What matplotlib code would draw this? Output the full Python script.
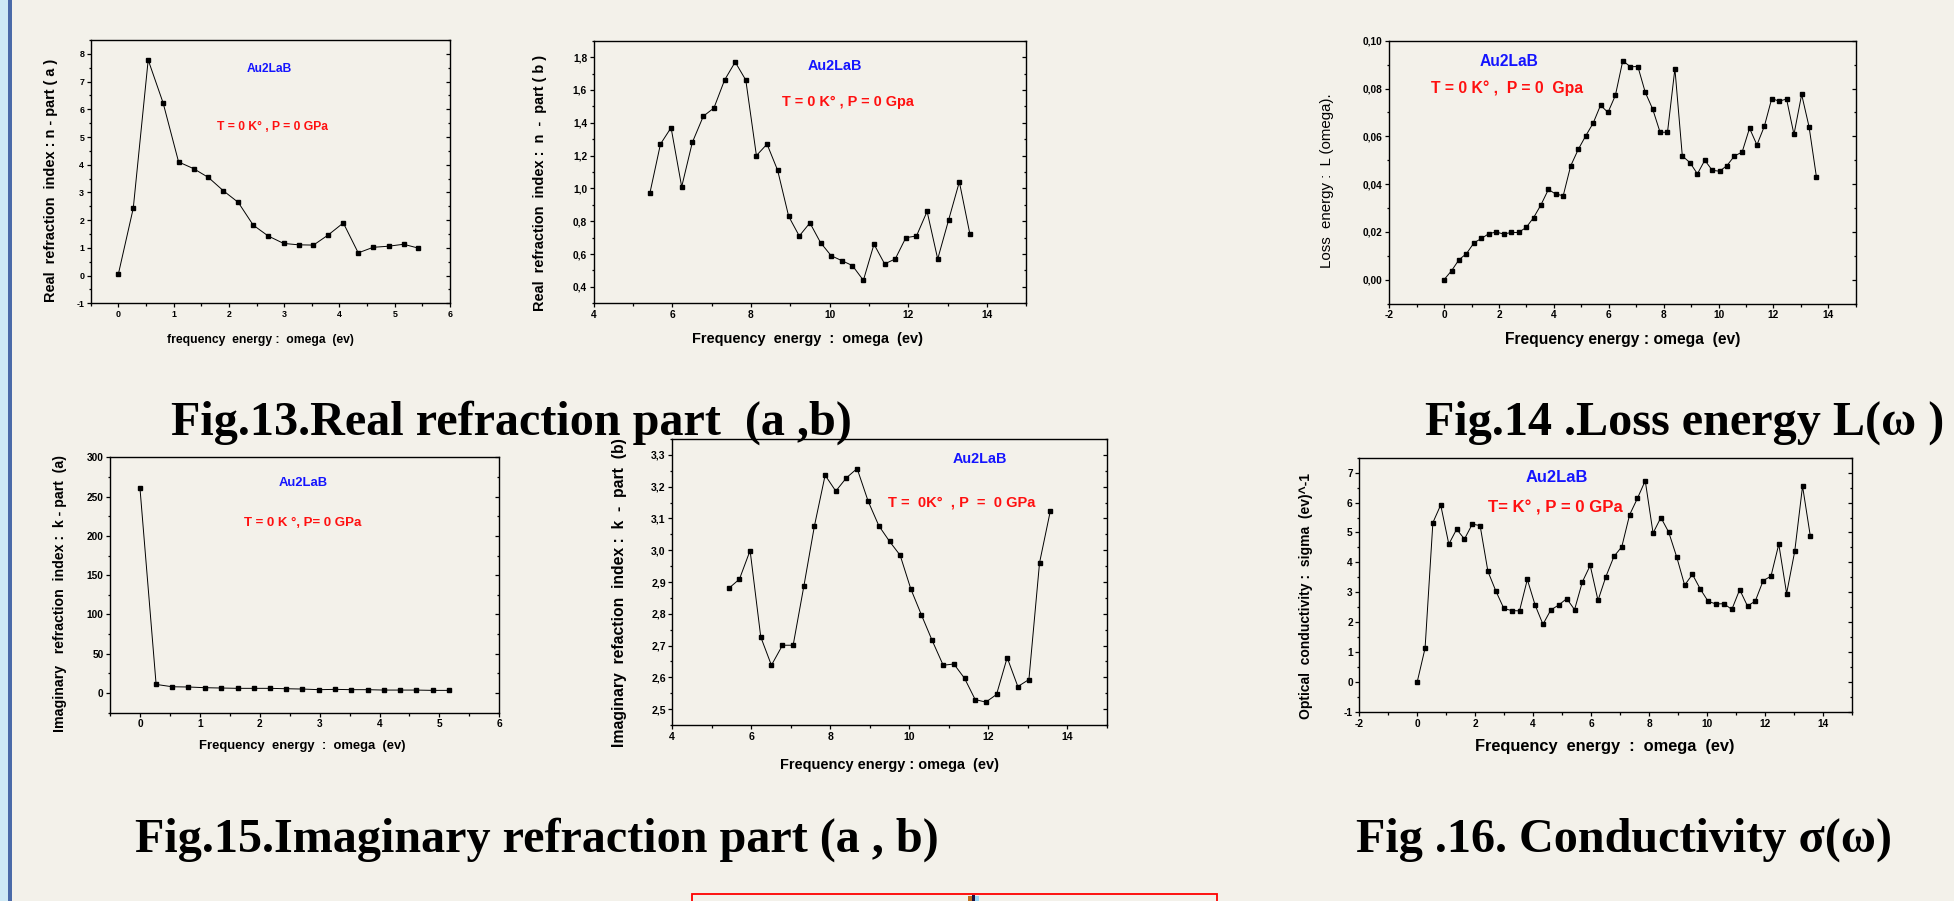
import matplotlib
matplotlib.use('Agg')
import matplotlib.pyplot as plt
from matplotlib.patches import Rectangle
from matplotlib.ticker import MultipleLocator, FuncFormatter

W, H = 1954, 901
BG = '#f3f1ea'

# energies (ev)
energy_low = [0.00, 0.27, 0.54, 0.81, 1.09, 1.36, 1.63, 1.90, 2.17, 2.44, 2.71,
              2.99, 3.26, 3.53, 3.80, 4.07, 4.34, 4.61, 4.89, 5.16, 5.43]
energy_high = [5.43, 5.70, 5.97, 6.24, 6.51, 6.79, 7.06, 7.33, 7.60, 7.87, 8.14,
               8.41, 8.68, 8.96, 9.23, 9.50, 9.77, 10.04, 10.31, 10.58, 10.86,
               11.13, 11.40, 11.67, 11.94, 12.21, 12.48, 12.75, 13.03, 13.30, 13.57]
energy_all = energy_low + energy_high[1:]

n_a = [0.05, 2.43, 7.78, 6.23, 4.10, 3.86, 3.54, 3.06, 2.64, 1.82, 1.43,
       1.16, 1.11, 1.10, 1.47, 1.90, 0.82, 1.02, 1.06, 1.13, 0.99]
n_b = [0.97, 1.27, 1.37, 1.01, 1.28, 1.44, 1.49, 1.66, 1.77, 1.66, 1.20,
       1.27, 1.11, 0.83, 0.71, 0.79, 0.67, 0.59, 0.56, 0.53, 0.44,
       0.66, 0.54, 0.57, 0.70, 0.71, 0.86, 0.57, 0.81, 1.04, 0.72]
loss = [0.0001, 0.0038, 0.0084, 0.0109, 0.0155, 0.0173, 0.0193, 0.0200, 0.0191,
        0.0198, 0.0198, 0.0219, 0.0260, 0.0314, 0.0378, 0.0358, 0.0352, 0.0476,
        0.0546, 0.0602, 0.0655, 0.0730, 0.0700, 0.0771, 0.0916, 0.0891, 0.0892,
        0.0784, 0.0714, 0.0617, 0.0617, 0.0883, 0.0518, 0.0490, 0.0443, 0.0500,
        0.0458, 0.0454, 0.0478, 0.0518, 0.0534, 0.0634, 0.0564, 0.0642, 0.0758,
        0.0747, 0.0756, 0.0608, 0.0775, 0.0640, 0.0429]
k_a = [261, 11, 8, 7.7, 6.8, 6.4, 6, 6, 6, 5.5, 5.1, 4.3, 4.7, 4.3, 4.3,
       3.8, 3.8, 3.8, 3.4, 3.4]
k_b = [2.880, 2.909, 2.999, 2.727, 2.638, 2.701, 2.701, 2.886, 3.077, 3.236,
       3.186, 3.228, 3.257, 3.154, 3.077, 3.028, 2.984, 2.878, 2.796, 2.716,
       2.638, 2.642, 2.597, 2.530, 2.522, 2.546, 2.662, 2.571, 2.593, 2.961, 3.122]
sigma = [0.01, 1.13, 5.33, 5.92, 4.61, 5.11, 4.78, 5.28, 5.23, 3.70, 3.05,
         2.46, 2.39, 2.38, 3.43, 2.57, 1.93, 2.41, 2.58, 2.79, 2.42, 3.35,
         3.90, 2.73, 3.52, 4.20, 4.52, 5.59, 6.14, 6.73, 4.98, 5.50, 5.01,
         4.17, 3.24, 3.60, 3.11, 2.70, 2.61, 2.62, 2.43, 3.09, 2.54, 2.71,
         3.39, 3.54, 4.61, 2.96, 4.37, 6.55, 4.87]

fig = plt.figure(figsize=(W / 100, H / 100), dpi=100, facecolor=BG)
renderer = fig.canvas.get_renderer()


def put(x, y, s, width, rot=0, weight='bold', color='black',
        family='Liberation Sans'):
    # place text centred at pixel (x, y) and scale it to the measured width
    t = fig.text(x / W, 1 - y / H, s, ha='center', va='center', rotation=rot,
                 fontsize=10, fontweight=weight, color=color, family=family)
    bb = t.get_window_extent(renderer)
    size = bb.height if rot else bb.width
    t.set_fontsize(10 * width / size)
    return t


def panel(box, x, y, xlim, ylim, xmaj, xmin, ymaj, ymin, yfmt, tsize=7.3):
    l, r, t, b = box
    ax = fig.add_axes([l / W, 1 - b / H, (r - l) / W, (b - t) / H])
    ax.set_facecolor(BG)
    ax.plot(x, y, color='black', lw=0.7, marker='s', ms=3.5, mfc='black', mec='black')
    ax.set_xlim(xlim)
    ax.set_ylim(ylim)
    ax.xaxis.set_major_locator(MultipleLocator(xmaj))
    ax.xaxis.set_minor_locator(MultipleLocator(xmin))
    ax.yaxis.set_major_locator(MultipleLocator(ymaj))
    ax.yaxis.set_minor_locator(MultipleLocator(ymin))
    ax.xaxis.set_major_formatter(FuncFormatter(lambda v, p: '%g' % round(v, 6)))
    ax.yaxis.set_major_formatter(FuncFormatter(yfmt))
    ax.tick_params(which='both', direction='out', width=0.9, pad=1.5,
                   labelsize=tsize, right=True)
    ax.tick_params(which='major', length=3.2)
    ax.tick_params(which='minor', length=1.8)
    for lab in ax.get_xticklabels() + ax.get_yticklabels():
        lab.set_fontweight('bold')
        lab.set_family('Liberation Sans')
    for s in ax.spines.values():
        s.set_linewidth(1.0)
    for tk in ax.yaxis.get_major_ticks() + ax.yaxis.get_minor_ticks():
        tk.tick2line.set_marker(0)  # inward on the right side
    return ax


intfmt = lambda v, p: '%g' % round(v, 6)
com1 = lambda v, p: ('%.1f' % v).replace('.', ',')
com2 = lambda v, p: ('%.2f' % v).replace('.', ',')

# Fig. 13 (a)
panel((90.7, 450, 40, 303.3), energy_low, n_a, (-0.5, 6), (-1, 8.5),
      1, 0.5, 1, 0.5, intfmt, tsize=6.4)
put(260.5, 340, 'frequency  energy :  omega  (ev)', 186)
put(51, 180, 'Real  refraction  index : n - part ( a )', 244, rot=90)
put(269, 69.3, 'Au2LaB', 45, color='#1414ff')
put(272.3, 127.3, 'T = 0 K° , P = 0 GPa', 112, color='#ff1010')

# Fig. 13 (b)
panel((593.6, 1026.2, 40.7, 303.3), energy_high, n_b, (4, 15), (0.3, 1.9),
      2, 1, 0.2, 0.1, com1)
put(807, 339.3, 'Frequency  energy  :  omega  (ev)', 231)
put(540.2, 183.3, 'Real  refraction  index :  n  -  part ( b )', 257, rot=90)
put(835, 66, 'Au2LaB', 54, color='#1414ff')
put(847.5, 102.3, 'T = 0 K° , P = 0 Gpa', 133, color='#ff1010')

# Fig. 14
panel((1389.3, 1855.7, 40.7, 303.7), energy_all, loss, (-2, 15), (-0.01, 0.10),
      2, 1, 0.02, 0.01, com2)
put(1622.5, 339.3, 'Frequency energy : omega  (ev)', 236)
put(1326.8, 180.7, 'Loss  energy :  L (omega).', 175, rot=90, weight='normal')
put(1508.9, 61, 'Au2LaB', 58.5, color='#1414ff')
put(1506.7, 88.3, 'T = 0 K° ,  P = 0  Gpa', 153, color='#ff1010')

# Fig. 15 (a)
panel((110, 499.3, 457.3, 712.7), energy_low[:len(k_a)], k_a, (-0.5, 6), (-25, 300),
      1, 0.5, 50, 25, intfmt)
put(302, 746, 'Frequency  energy  :  omega  (ev)', 208)
put(60, 594, 'Imaginary   refraction  index :  k - part  (a)', 278, rot=90)
put(302.8, 483.3, 'Au2LaB', 49, color='#1414ff')
put(302.8, 523.3, 'T = 0 K °, P= 0 GPa', 118, color='#ff1010')

# Fig. 15 (b)
panel((672.3, 1106.7, 439, 725), energy_high, k_b, (4, 15), (2.45, 3.35),
      2, 1, 0.1, 0.05, com1, tsize=7.6)
put(889.3, 765, 'Frequency energy : omega  (ev)', 220)
put(619.3, 592.3, 'Imaginary  refaction  index :  k  -  part  (b)', 308, rot=90)
put(979.5, 458.7, 'Au2LaB', 54, color='#1414ff')
put(962, 502.3, 'T =  0K°  , P  =  0 GPa', 147, color='#ff1010')

# Fig. 16
panel((1359.3, 1851.8, 457.7, 712), energy_all, sigma, (-2, 15), (-1, 7.5),
      2, 1, 1, 0.5, intfmt)
put(1605, 746, 'Frequency  energy  :  omega  (ev)', 262)
put(1306.4, 595.7, 'Optical  conductivity :  sigma  (ev)^-1', 245, rot=90)
put(1556.5, 477.3, 'Au2LaB', 62, color='#1414ff')
put(1555.6, 508.3, 'T= K° , P = 0 GPa', 135, color='#ff1010')

# captions
cap = dict(fontsize=34.7, fontweight='bold', family='Liberation Serif',
           ha='left', va='baseline', color='black')
fig.text(170.7 / W, 1 - 435 / H, 'Fig.13.Real refraction part  (a ,b)', **cap)
fig.text(1425 / W, 1 - 435 / H, 'Fig.14 .Loss energy L(ω )', **cap)
fig.text(134.6 / W, 1 - 852 / H, 'Fig.15.Imaginary refraction part (a , b)', **cap)
fig.text(1356 / W, 1 - 852 / H, 'Fig .16. Conductivity σ(ω)', **cap)

# page decorations: left border and the red frame cut at the bottom
fig.patches.append(Rectangle((0, 0), 8.3 / W, 1, transform=fig.transFigure,
                             color='#cde9f6', lw=0))
fig.patches.append(Rectangle((8.3 / W, 0), 3.4 / W, 1, transform=fig.transFigure,
                             color='#4a6aa8', lw=0))
fig.patches.append(Rectangle((692.3 / W, -0.01), 524.4 / W, 1 - 894 / H + 0.01,
                             transform=fig.transFigure, fill=False,
                             edgecolor='#ff0000', lw=1.3))
fig.patches.append(Rectangle((968 / W, 0), 4 / W, 5 / H, transform=fig.transFigure,
                             color='#c07020', lw=0))
fig.patches.append(Rectangle((972 / W, 0), 3 / W, 6 / H, transform=fig.transFigure,
                             color='#1a1040', lw=0))
fig.patches.append(Rectangle((975 / W, 0), 4 / W, 5 / H, transform=fig.transFigure,
                             color='#9ad8f5', lw=0))

fig.savefig('out.png', dpi=100, facecolor=BG)
